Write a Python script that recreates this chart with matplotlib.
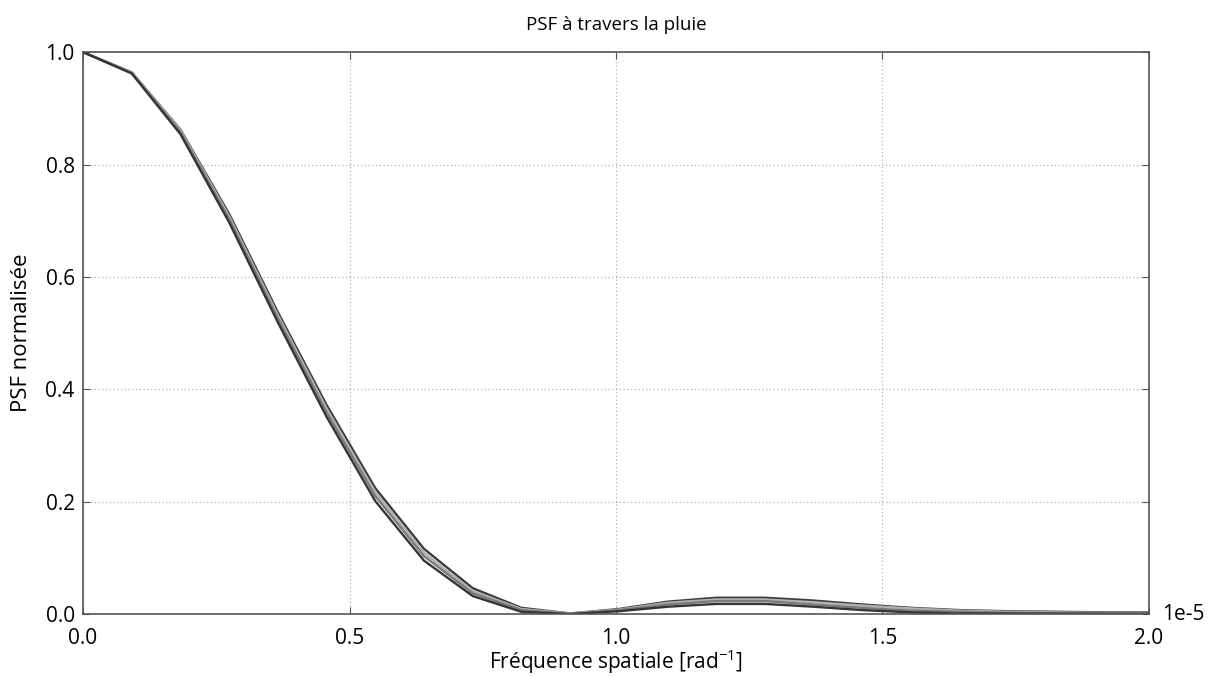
import matplotlib
matplotlib.use("Agg")
import matplotlib.pyplot as plt
from matplotlib.ticker import FixedLocator, FuncFormatter

plt.rcParams['font.family'] = ['Open Sans', 'DejaVu Sans']

# spatial frequency [rad^-1] (in units of 1e-5)
freq = [0.0, 0.0914, 0.1828, 0.2742, 0.3656, 0.457, 0.5484, 0.6398, 0.7312,
        0.8226, 0.914, 1.0054, 1.0968, 1.1882, 1.2796, 1.371, 1.4624, 1.5538,
        1.6452, 1.7366, 1.828, 1.9194, 2.0108]

psf_a = [1.0, 0.964, 0.862, 0.712, 0.537, 0.372, 0.224, 0.116, 0.046, 0.011, 0.001,
         0.009, 0.022, 0.029, 0.029, 0.024, 0.017, 0.011, 0.007, 0.005, 0.004, 0.003, 0.003]
psf_b = [1.0, 0.964, 0.861, 0.708, 0.532, 0.366, 0.217, 0.109, 0.041, 0.009, 0.001,
         0.008, 0.020, 0.026, 0.026, 0.021, 0.015, 0.010, 0.006, 0.004, 0.003, 0.002, 0.002]
psf_c = [1.0, 0.963, 0.858, 0.703, 0.526, 0.359, 0.210, 0.103, 0.037, 0.007, 0.0,
         0.007, 0.017, 0.023, 0.023, 0.017, 0.011, 0.006, 0.004, 0.002, 0.002, 0.001, 0.001]
psf_d = [1.0, 0.962, 0.854, 0.697, 0.519, 0.351, 0.201, 0.095, 0.032, 0.004, 0.0,
         0.005, 0.013, 0.018, 0.018, 0.013, 0.007, 0.003, 0.001, 0.001, 0.0005, 0.0003, 0.0002]

series = [psf_a, psf_b, psf_c, psf_d]
colors = ['#3c3c3c', '#b0b0b0', '#7a7a7a', '#353535']

xticks = [0.0, 0.5, 1.0, 1.5, 2.0]
yticks = [0.0, 0.2, 0.4, 0.6, 0.8, 1.0]

fig = plt.figure(figsize=(12.12, 6.77), dpi=100)
ax = fig.add_axes([0.0685, 0.093, 0.8795, 0.830])

scale = 1e-5
xs = [f * scale for f in freq]
for s, c in zip(series, colors):
    ax.plot(xs, s, color=c, lw=1.7, solid_joinstyle='round')

ax.set_xlim(0, 2.0 * scale)
ax.set_ylim(0, 1.0)
ax.xaxis.set_major_locator(FixedLocator([t * scale for t in xticks]))
ax.xaxis.set_major_formatter(FuncFormatter(lambda v, p: f"{v / scale:.1f}"))
ax.yaxis.set_major_locator(FixedLocator(yticks))
ax.yaxis.set_major_formatter(FuncFormatter(lambda v, p: f"{v:.1f}"))

ax.grid(True, color='#b0b0b0', linestyle=(0, (1, 2)), linewidth=0.9)
ax.tick_params(direction='in', top=True, right=True, length=5, width=0.8,
               color='#555555', labelsize=15)
ax.tick_params(axis='x', pad=10)
ax.tick_params(axis='y', pad=6)
for sp in ax.spines.values():
    sp.set_color('#555555')
    sp.set_linewidth(1.2)

ax.text(1.012, 0.0, '1e-5', transform=ax.transAxes, fontsize=15,
        ha='left', va='center')

ax.set_title('PSF à travers la pluie', fontsize=13.5, pad=16)
ax.set_xlabel('Fréquence spatiale [rad$^{\\mathregular{-1}}$]', fontsize=15, labelpad=-1)
ax.set_ylabel('PSF normalisée', fontsize=16, labelpad=10)

fig.savefig('out.png', dpi=100, facecolor='white')
